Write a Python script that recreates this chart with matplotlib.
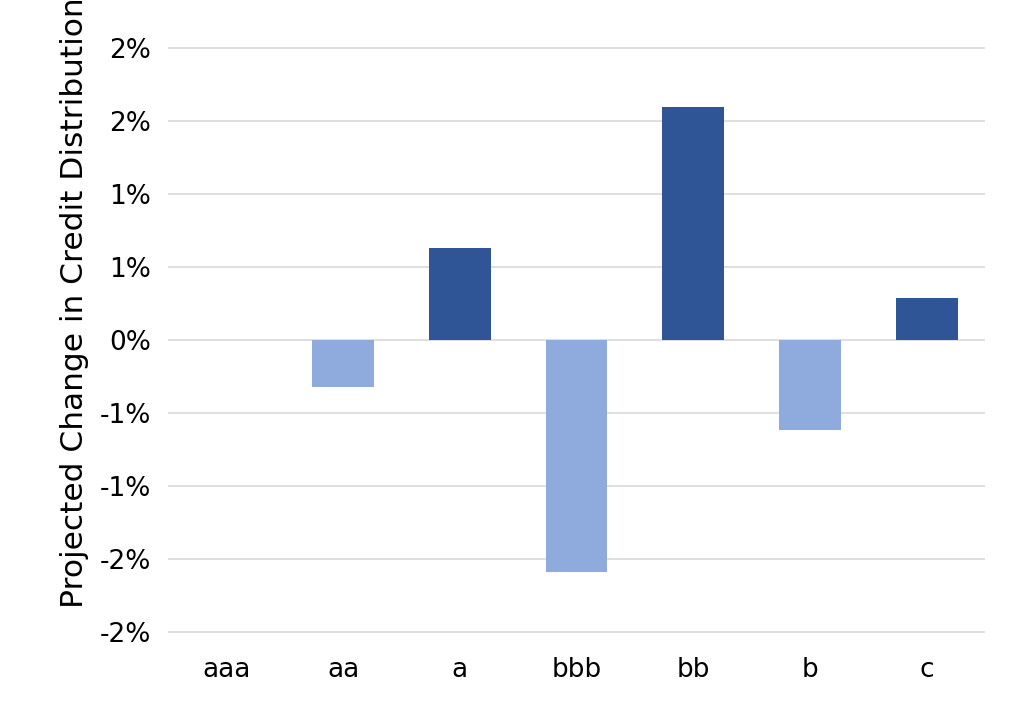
import matplotlib
matplotlib.use("Agg")
import matplotlib.pyplot as plt
import numpy as np

categories = ["aaa", "aa", "a", "bbb", "bb", "b", "c"]
changes = [0.0, -0.32, 0.63, -1.59, 1.60, -0.62, 0.29]
y_ticks = [-2.0, -1.5, -1.0, -0.5, 0.0, 0.5, 1.0, 1.5, 2.0]
y_labels = ["-2%", "-2%", "-1%", "-1%", "0%", "1%", "1%", "2%", "2%"]

pos_color = "#2F5597"
neg_color = "#8FAADC"

fig = plt.figure(figsize=(10.24, 7.12), dpi=100)
ax = fig.add_axes([168 / 1024, 1 - 633 / 712, 817 / 1024, 586 / 712])

x = np.arange(len(categories))
colors = [pos_color if v >= 0 else neg_color for v in changes]
ax.bar(x, changes, width=0.53, color=colors, zorder=2)

ax.set_xlim(-0.5, len(categories) - 0.5)
ax.set_ylim(-2.01, 2.01)
ax.set_yticks(y_ticks)
ax.set_yticklabels(y_labels, fontsize=19)
ax.set_xticks(x)
ax.set_xticklabels(categories, fontsize=19)
ax.yaxis.grid(True, color="#d9d9d9", linewidth=1.2, zorder=0)
ax.tick_params(axis="y", length=0, pad=12)
ax.tick_params(axis="x", length=0, pad=17)
for s in ax.spines.values():
    s.set_visible(False)
# label sits a bit above centre and runs off the top edge, as in the source
ax.set_ylabel("Projected Change in Credit Distribution", fontsize=22.5)
ax.yaxis.set_label_coords(-0.097, 0.563)

fig.savefig("out.png", dpi=100)
